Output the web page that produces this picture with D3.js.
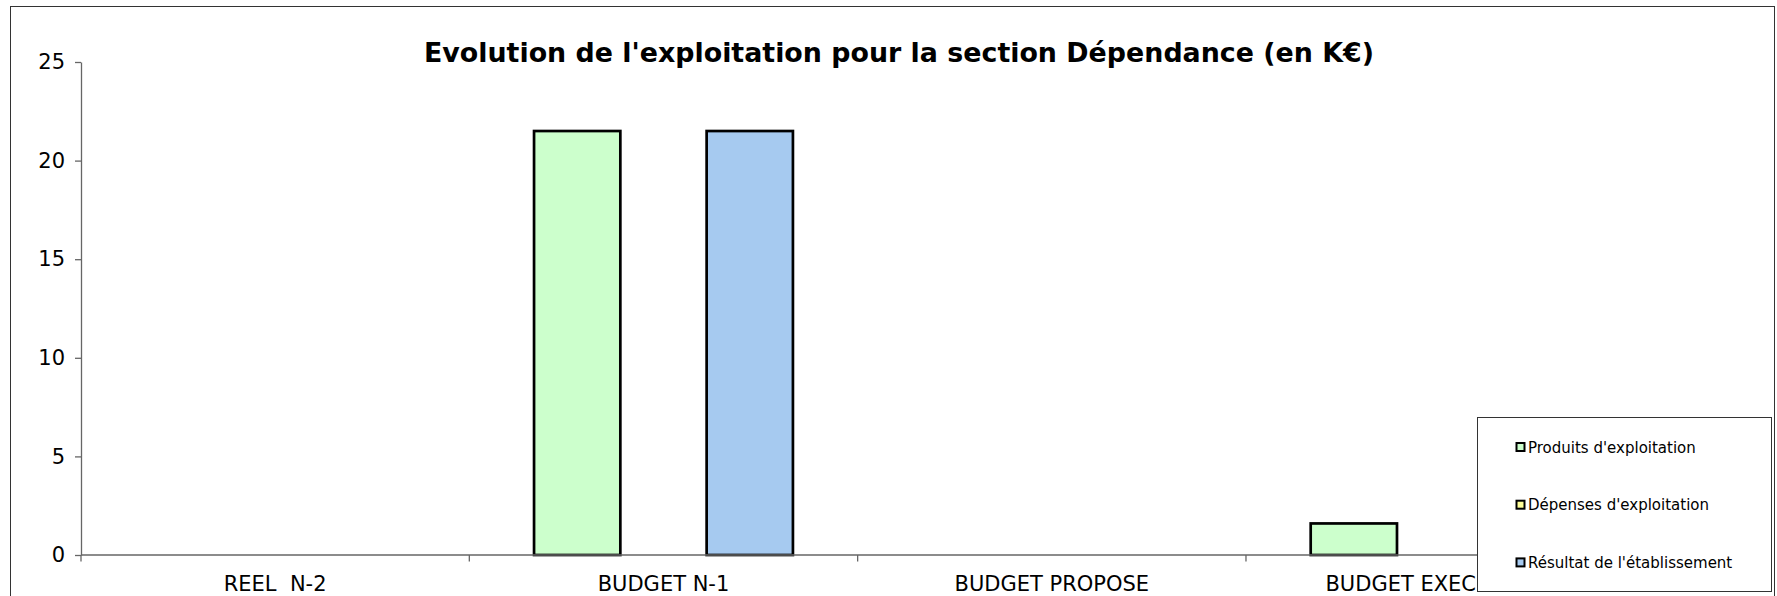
<!DOCTYPE html>
<html>
<head>
<meta charset="utf-8">
<script src="https://cdn.jsdelivr.net/npm/d3@7/dist/d3.min.js"></script>
<style>
  html, body { margin: 0; padding: 0; background: #fff; }
  svg { display: block; font-family: "DejaVu Sans", Verdana, sans-serif; }
</style>
</head>
<body>
<svg id="chart" width="1777" height="596"></svg>
<script>
// Operating figures for the "Dépendance" section, in K€
const categories = ["REEL  N-2", "BUDGET N-1", "BUDGET PROPOSE", "BUDGET EXECUTOIRE"];
const seriesNames = ["Produits d'exploitation", "Dépenses d'exploitation", "Résultat de l'établissement"];
const produits = [0, 21.5, 0, 1.6];
const depenses = [0, 0, 0, 0];
const resultat = [0, 21.5, 0, 1.6];
const yTicks = [0, 5, 10, 15, 20, 25];
const colors = ["#CCFFCC", "#FFFF99", "#A6CAF0"];
const title = "Evolution de l'exploitation pour la section Dépendance (en K€)";

const seriesValues = [produits, depenses, resultat];
const rows = categories.map((c, i) => ({
  category: c,
  values: seriesNames.map((s, j) => ({ series: s, idx: j, value: seriesValues[j][i] }))
}));

const svg = d3.select("#chart");
const plot = { left: 81, right: 1634.3, top: 62, bottom: 555 };

// Chart area frame
svg.append("rect")
  .attr("x", 10.5).attr("y", 6.5)
  .attr("width", 1764).attr("height", 620)
  .attr("fill", "#fff").attr("stroke", "#333").attr("stroke-width", 1);

// Title
svg.append("text")
  .attr("x", 899).attr("y", 62)
  .attr("text-anchor", "middle")
  .attr("font-size", 26).attr("font-weight", "bold")
  .attr("textLength", 950).attr("lengthAdjust", "spacingAndGlyphs")
  .attr("fill", "#000")
  .text(title);

const x0 = d3.scaleBand().domain(categories).range([plot.left, plot.right]).paddingInner(0).paddingOuter(0);
const x1 = d3.scaleBand().domain(seriesNames).range([0, x0.bandwidth()]).paddingInner(0).paddingOuter(0.75);
const y = d3.scaleLinear().domain([0, 25]).range([plot.bottom, plot.top]);

// Bars (zero values draw nothing)
const groups = svg.append("g").selectAll("g").data(rows).join("g")
  .attr("transform", d => `translate(${x0(d.category)},0)`);
groups.selectAll("rect")
  .data(d => d.values.filter(v => v.value > 0))
  .join("rect")
  .attr("x", d => x1(d.series))
  .attr("y", d => y(d.value))
  .attr("width", x1.bandwidth())
  .attr("height", d => y(0) - y(d.value))
  .attr("fill", d => colors[d.idx])
  .attr("stroke", "#000")
  .attr("stroke-width", 2.7);

// Y axis
const yAxis = svg.append("g")
  .attr("transform", `translate(${plot.left},0)`)
  .call(d3.axisLeft(y).tickValues(yTicks).tickSize(6).tickPadding(10).tickSizeOuter(0));
yAxis.select(".domain").attr("stroke", "#666").attr("stroke-width", 1.3);
yAxis.selectAll(".tick line").attr("stroke", "#666").attr("stroke-width", 1.3);
yAxis.selectAll(".tick text").attr("font-size", 21).attr("fill", "#000")
  .attr("font-family", "'DejaVu Sans', Verdana, sans-serif");

// X axis: baseline plus tick marks at category boundaries
const xAxis = svg.append("g");
xAxis.append("line")
  .attr("x1", plot.left).attr("x2", plot.right)
  .attr("y1", y(0)).attr("y2", y(0))
  .attr("stroke", "#666").attr("stroke-width", 1.3);
const boundaries = categories.map(c => x0(c)).concat([x0(categories[categories.length - 1]) + x0.bandwidth()]);
xAxis.selectAll("line.tick").data(boundaries).join("line")
  .attr("class", "tick")
  .attr("x1", d => d).attr("x2", d => d)
  .attr("y1", y(0)).attr("y2", y(0) + 6.5)
  .attr("stroke", "#666").attr("stroke-width", 1.3);
xAxis.selectAll("text").data(categories).join("text")
  .attr("x", d => x0(d) + x0.bandwidth() / 2)
  .attr("y", 591)
  .attr("text-anchor", "middle")
  .attr("font-size", 21)
  .attr("fill", "#000")
  .style("white-space", "pre")
  .text(d => d);

// Legend
const legend = svg.append("g").attr("transform", "translate(1477.5,417.5)");
legend.append("rect")
  .attr("width", 294).attr("height", 174)
  .attr("fill", "#fff").attr("stroke", "#333").attr("stroke-width", 1);
const items = legend.selectAll("g.item").data(seriesNames).join("g")
  .attr("class", "item")
  .attr("transform", (d, i) => `translate(0,${35 + i * 57.7})`);
items.append("rect")
  .attr("x", 39).attr("y", -9.5)
  .attr("width", 8).attr("height", 8)
  .attr("fill", (d, i) => colors[i])
  .attr("stroke", "#000").attr("stroke-width", 2);
items.append("text")
  .attr("x", 50.5).attr("y", 0)
  .attr("font-size", 15)
  .attr("fill", "#000")
  .text(d => d);
</script>
</body>
</html>
